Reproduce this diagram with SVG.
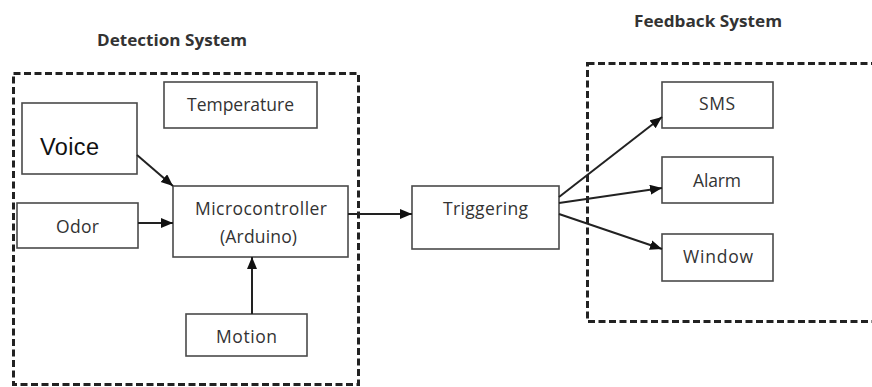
<svg xmlns="http://www.w3.org/2000/svg" width="872" height="387" viewBox="0 0 872 387">
<style>
.box{fill:#fff;stroke:#4a4a4a;stroke-width:1.6}
.grp{fill:none;stroke:#222;stroke-width:3;stroke-dasharray:7 3.5}
.t{font-family:"Open Sans","Liberation Sans",sans-serif;font-size:17.5px;fill:#333;text-anchor:middle}
.title{font-family:"Open Sans","Liberation Sans",sans-serif;font-size:15.5px;font-weight:bold;fill:#333;text-anchor:middle}
.conn line{stroke:#222;stroke-width:2;marker-end:url(#ah)}
</style>
<defs>
<marker id="ah" markerUnits="userSpaceOnUse" markerWidth="14" markerHeight="12" refX="12" refY="5" orient="auto">
<path d="M0,0 L12,5 L0,10 Z" fill="#111"/>
</marker>
</defs>
<rect width="872" height="387" fill="#fff"/>
<g id="detection-system">
<rect class="grp" x="13.5" y="73.5" width="345" height="311"/>
<text class="title" x="172" y="46" textLength="150" lengthAdjust="spacingAndGlyphs">Detection System</text>
</g>
<g id="feedback-system">
<rect class="grp" x="587.5" y="63.5" width="300" height="258"/>
<text class="title" x="708" y="27" textLength="148" lengthAdjust="spacingAndGlyphs">Feedback System</text>
</g>
<g id="temperature">
<rect class="box" x="164" y="82" width="153" height="46"/>
<text class="t" x="240.5" y="111" textLength="107" lengthAdjust="spacing">Temperature</text>
</g>
<g id="voice">
<rect class="box" x="22" y="103" width="115" height="71"/>
<text x="40" y="155" font-family="Liberation Sans, Arial, sans-serif" font-size="23.5" fill="#111" textLength="59" lengthAdjust="spacing">Voice</text>
</g>
<g id="odor">
<rect class="box" x="17" y="203" width="121" height="45"/>
<text class="t" x="77.5" y="233" textLength="43" lengthAdjust="spacing">Odor</text>
</g>
<g id="microcontroller">
<rect class="box" x="173" y="186" width="175" height="71"/>
<text class="t" x="261" y="215" textLength="132" lengthAdjust="spacing">Microcontroller</text>
<text class="t" x="258.5" y="243" textLength="77" lengthAdjust="spacing">(Arduino)</text>
</g>
<g id="motion">
<rect class="box" x="186" y="314" width="121" height="42"/>
<text class="t" x="246.5" y="343" textLength="61" lengthAdjust="spacing">Motion</text>
</g>
<g id="triggering">
<rect class="box" x="412" y="186" width="147" height="63"/>
<text class="t" x="485.5" y="215" textLength="85" lengthAdjust="spacing">Triggering</text>
</g>
<g id="sms">
<rect class="box" x="662" y="82" width="111" height="46"/>
<text class="t" x="717" y="110" textLength="36" lengthAdjust="spacing">SMS</text>
</g>
<g id="alarm">
<rect class="box" x="662" y="157" width="111" height="46"/>
<text class="t" x="717" y="187" textLength="48" lengthAdjust="spacing">Alarm</text>
</g>
<g id="window">
<rect class="box" x="662" y="234" width="111" height="47"/>
<text class="t" x="718" y="263" textLength="70" lengthAdjust="spacing">Window</text>
</g>
<g id="connectors" class="conn">
<line x1="137" y1="155" x2="173" y2="186"/>
<line x1="138" y1="223" x2="173" y2="223"/>
<line x1="252" y1="314" x2="252" y2="257"/>
<line x1="348" y1="214" x2="412" y2="214"/>
<line x1="559" y1="197" x2="662" y2="117"/>
<line x1="559" y1="203" x2="662" y2="188"/>
<line x1="559" y1="214" x2="662" y2="249"/>
</g>
</svg>
